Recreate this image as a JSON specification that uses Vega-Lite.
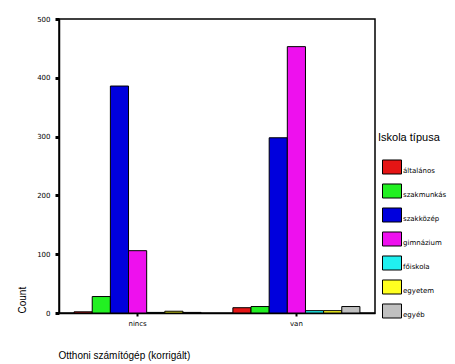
{
  "$schema": "https://vega.github.io/schema/vega-lite/v6.json",
  "width": 316,
  "height": 294,
  "autosize": "none",
  "padding": {"left": 59, "top": 19, "right": 80, "bottom": 51},
  "background": "white",
  "data": {
    "values": [
      {"group": "nincs", "iskola": "általános", "count": 2},
      {"group": "nincs", "iskola": "szakmunkás", "count": 28},
      {"group": "nincs", "iskola": "szakközép", "count": 386},
      {"group": "nincs", "iskola": "gimnázium", "count": 106},
      {"group": "nincs", "iskola": "főiskola", "count": 1},
      {"group": "nincs", "iskola": "egyetem", "count": 3},
      {"group": "nincs", "iskola": "egyéb", "count": 1},
      {"group": "van", "iskola": "általános", "count": 9},
      {"group": "van", "iskola": "szakmunkás", "count": 11},
      {"group": "van", "iskola": "szakközép", "count": 298},
      {"group": "van", "iskola": "gimnázium", "count": 453},
      {"group": "van", "iskola": "főiskola", "count": 4},
      {"group": "van", "iskola": "egyetem", "count": 4},
      {"group": "van", "iskola": "egyéb", "count": 11}
    ]
  },
  "mark": {"type": "bar", "stroke": "black", "strokeWidth": 1},
  "encoding": {
    "x": {
      "field": "group",
      "type": "nominal",
      "scale": {"paddingInner": 0.2, "paddingOuter": 0.095},
      "axis": {
        "title": "Otthoni számítógép (korrigált)",
        "titleAnchor": "start",
        "titleAlign": "left",
        "titleX": -1,
        "titleY": 37,
        "titleFont": "Liberation Sans",
        "titleFontSize": 10,
        "titleFontWeight": "normal",
        "titleColor": "black",
        "labelAngle": 0,
        "labelFont": "DejaVu Sans",
        "labelFontSize": 7,
        "labelColor": "black",
        "labelPadding": 3,
        "tickColor": "black",
        "tickSize": 3,
        "tickWidth": 2,
        "domainColor": "black",
        "domainWidth": 1.5,
        "grid": false
      }
    },
    "xOffset": {"field": "iskola", "type": "nominal", "sort": ["általános", "szakmunkás", "szakközép", "gimnázium", "főiskola", "egyetem", "egyéb"], "scale": {"paddingInner": 0, "paddingOuter": 0}},
    "y": {
      "field": "count",
      "type": "quantitative",
      "scale": {"domain": [0, 500], "nice": false},
      "axis": {
        "title": "Count",
        "titleAnchor": "start",
        "titleX": -32,
        "titleY": 294,
        "titleAlign": "left",
        "titleBaseline": "bottom",
        "titleFont": "Liberation Sans",
        "titleFontSize": 10,
        "titleFontWeight": "normal",
        "titleColor": "black",
        "values": [0, 100, 200, 300, 400, 500],
        "labelFont": "DejaVu Sans",
        "labelFontSize": 7,
        "labelColor": "black",
        "labelPadding": 5,
        "tickColor": "black",
        "tickSize": 4,
        "tickWidth": 3,
        "domainColor": "black",
        "domainWidth": 1.5,
        "grid": false
      }
    },
    "fill": {
      "field": "iskola",
      "type": "nominal",
      "scale": {
        "domain": ["általános", "szakmunkás", "szakközép", "gimnázium", "főiskola", "egyetem", "egyéb"],
        "range": ["#e51515", "#22f022", "#0000dd", "#ee10ee", "#20f0f0", "#ffff20", "#c0c0c0"]
      },
      "legend": {
        "title": "Iskola típusa",
        "orient": "none",
        "legendX": 319,
        "legendY": 113,
        "titleFont": "Liberation Sans",
        "titleFontSize": 11,
        "titleFontWeight": "normal",
        "titleColor": "black",
        "titlePadding": 14,
        "symbolType": "M-1,-0.737H1V0.737H-1Z",
        "symbolSize": 361,
        "symbolOffset": 4,
        "symbolStrokeColor": "black",
        "symbolStrokeWidth": 1,
        "symbolOpacity": 1,
        "labelFont": "DejaVu Sans",
        "labelFontSize": 7,
        "labelColor": "black",
        "labelOffset": 1,
        "labelBaseline": "top",
        "rowPadding": 4,
        "padding": 0
      }
    }
  },
  "config": {
    "view": {"stroke": "black", "strokeWidth": 1.5}
  }
}
